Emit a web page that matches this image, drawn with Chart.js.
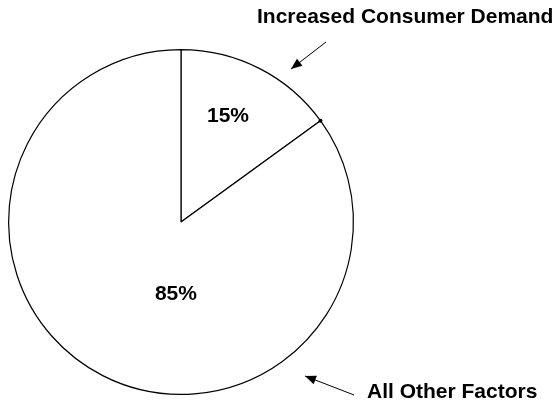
<!DOCTYPE html>
<html>
<head>
<meta charset="utf-8">
<script src="https://cdn.jsdelivr.net/npm/chart.js@4/dist/chart.umd.min.js"></script>
<style>
  html, body { margin: 0; padding: 0; background: #fff; }
  canvas { display: block; }
</style>
</head>
<body>
<canvas id="c" width="557" height="410"></canvas>
<script>
// ---- data ----
const categories = ["Increased Consumer Demand", "All Other Factors"];
const shares = [15, 85];
const sliceLabels = ["15%", "85%"];

const FONT = '"Liberation Sans", Arial, sans-serif';

// inner percentage labels, placed relative to each arc's centre (angle from top clockwise in degrees, radius as fraction)
const innerLabelPlacement = [
  { angle: 24, r: 0.67 },
  { angle: 184, r: 0.42 }
];

// outer callouts (annotation text with arrow)
const callouts = [
  { text: categories[0], tx: 257, ty: 23, from: [326, 42], to: [291, 69] },
  { text: categories[1], tx: 367, ty: 398, from: [354, 395], to: [305, 376] }
];

const annotate = {
  id: 'annotate',
  afterDatasetsDraw(chart) {
    const ctx = chart.ctx;
    const arcs = chart.getDatasetMeta(0).data;
    ctx.save();
    ctx.fillStyle = '#000';
    ctx.font = 'bold 21px ' + FONT;
    ctx.textAlign = 'center';
    ctx.textBaseline = 'middle';
    arcs.forEach((arc, i) => {
      const p = innerLabelPlacement[i];
      const a = (p.angle - 90) * Math.PI / 180;
      const x = arc.x + Math.cos(a) * arc.outerRadius * p.r;
      const y = arc.y + Math.sin(a) * arc.outerRadius * p.r;
      ctx.fillText(sliceLabels[i], x, y);
    });
    // dot at boundary between slices on circle
    const a0 = arcs[0];
    ctx.beginPath();
    ctx.arc(a0.x + Math.cos(a0.endAngle) * a0.outerRadius, a0.y + Math.sin(a0.endAngle) * a0.outerRadius, 2, 0, Math.PI * 2);
    ctx.fill();
    // callouts
    ctx.textAlign = 'left';
    ctx.textBaseline = 'alphabetic';
    callouts.forEach(c => {
      ctx.fillText(c.text, c.tx, c.ty);
      const [x1, y1] = c.from, [x2, y2] = c.to;
      ctx.strokeStyle = '#000';
      ctx.lineWidth = 1;
      ctx.beginPath();
      ctx.moveTo(x1, y1);
      ctx.lineTo(x2, y2);
      ctx.stroke();
      const ang = Math.atan2(y2 - y1, x2 - x1);
      const L = 11, W = 4.5;
      ctx.beginPath();
      ctx.moveTo(x2, y2);
      ctx.lineTo(x2 - L * Math.cos(ang) + W * Math.sin(ang), y2 - L * Math.sin(ang) - W * Math.cos(ang));
      ctx.lineTo(x2 - L * Math.cos(ang) - W * Math.sin(ang), y2 - L * Math.sin(ang) + W * Math.cos(ang));
      ctx.closePath();
      ctx.fill();
    });
    ctx.restore();
  }
};

new Chart(document.getElementById('c'), {
  type: 'pie',
  data: {
    labels: categories,
    datasets: [{
      data: shares,
      backgroundColor: ['#ffffff', '#ffffff'],
      borderColor: '#000000',
      borderWidth: 1.2
    }]
  },
  options: {
    responsive: false,
    animation: false,
    devicePixelRatio: 1,
    layout: { padding: { left: 8, right: 203, top: 49, bottom: 15 } },
    plugins: {
      legend: { display: false },
      tooltip: { enabled: false }
    }
  },
  plugins: [annotate]
});
</script>
</body>
</html>
